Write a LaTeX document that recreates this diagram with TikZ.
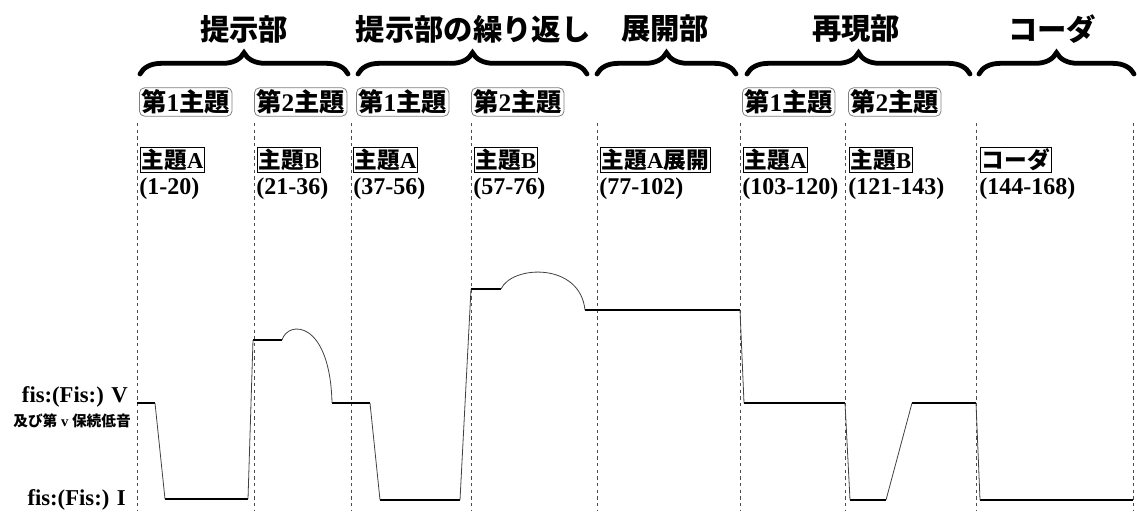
\documentclass[tikz,border=0pt]{standalone}
\usepackage{fontspec}
\setmainfont{Liberation Serif}
\newfontfamily\jp{Noto Sans CJK JP}
\usetikzlibrary{decorations.pathreplacing}
\newcommand\J[1]{{\jp #1}}
\begin{document}
\begin{tikzpicture}[x=0.75pt,y=-0.75pt,
  title/.style={font=\bfseries\jp\fontsize{22}{26}\selectfont, inner sep=0pt},
  bigbrace/.style={decorate, decoration={brace, amplitude=16pt}, line width=3.6pt, line cap=round},
  themebox/.style={draw=gray, rounded corners=4pt, line width=0.6pt, inner sep=1.5pt, anchor=west,
    font=\bfseries\fontsize{19}{21}\selectfont, minimum height=25*0.75pt},
  secbox/.style={draw=black, line width=0.6pt, inner sep=1pt, anchor=west,
    font=\bfseries\fontsize{17}{19}\selectfont},
  bars/.style={anchor=west, inner sep=0pt, font=\bfseries\fontsize{18}{20}\selectfont},
  guide/.style={dashed, dash pattern=on 2.5pt off 2.5pt, line width=0.6pt, gray!60!black},
  lvl/.style={line width=1.9pt, black},
  trans/.style={line width=0.6pt, gray!50!black},
  axlab/.style={anchor=east, inner sep=0pt, font=\bfseries\fontsize{17}{19}\selectfont}
]
\useasboundingbox (0,0) rectangle (1137,511);

% guide lines
\foreach \x in {137,254,351,471,597,740,845,976,1133}
  \draw[guide] (\x,123) -- (\x,511);

% titles
\node[title] (t1) at (244,29) {提示部};
\node[title] (t2) at (473,29) {提示部の繰り返し};
\node[title] (t3) at (665,29) {展開部};
\node[title] (t4) at (856,29) {再現部};
\node[title] (t5) at (1052,29) {コーダ};

% braces
\draw[bigbrace] (140,74) -- (348,74);
\draw[bigbrace] (358,74) -- (587,74);
\draw[bigbrace] (597,74) -- (736,74);
\draw[bigbrace] (747,74) -- (970,74);
\draw[bigbrace] (979,74) -- (1134,74);

% theme boxes
\node[themebox] (th1) at (139,102) {\J{第}1\J{主題}};
\node[themebox] (th2) at (254,102) {\J{第}2\J{主題}};
\node[themebox] (th3) at (356,102) {\J{第}1\J{主題}};
\node[themebox] (th4) at (471,102) {\J{第}2\J{主題}};
\node[themebox] (th5) at (742,102) {\J{第}1\J{主題}};
\node[themebox] (th6) at (848,102) {\J{第}2\J{主題}};

% section boxes
\node[secbox] (s1) at (140,160) {\J{主題}A};
\node[secbox] (s2) at (257,160) {\J{主題}B};
\node[secbox] (s3) at (353,160) {\J{主題}A};
\node[secbox] (s4) at (474,160) {\J{主題}B};
\node[secbox] (s5) at (600,160) {\J{主題}A\J{展開}};
\node[secbox] (s6) at (743,160) {\J{主題}A};
\node[secbox] (s7) at (849,160) {\J{主題}B};
\node[secbox] (s8) at (980,160) {\J{コーダ}};

% bar numbers
\node[bars] (b1) at (139,189) {(1-20)};
\node[bars] (b2) at (256,189) {(21-36)};
\node[bars] (b3) at (353,189) {(37-56)};
\node[bars] (b4) at (473,189) {(57-76)};
\node[bars] (b5) at (599,189) {(77-102)};
\node[bars] (b6) at (742,189) {(103-120)};
\node[bars] (b7) at (848,189) {(121-143)};
\node[bars] (b8) at (979,189) {(144-168)};

% axis labels
\node[axlab] (v) at (128,397) {fis:(Fis:) V};
\node[axlab, font=\bfseries\fontsize{11}{13}\selectfont] (vp) at (131,421) {\J{及び第} v \J{保続低音}};
\node[axlab] (i) at (126,500) {fis:(Fis:) I};

% levels
\draw[lvl] (137,403) -- (155,403);
\draw[lvl] (165,499) -- (248,499);
\draw[lvl] (253,340) -- (282,340);
\draw[lvl] (332,403) -- (370,403);
\draw[lvl] (380,500) -- (460,500);
\draw[lvl] (471,289) -- (501,289);
\draw[lvl] (585,310) -- (740,310);
\draw[lvl] (744,403) -- (845,403);
\draw[lvl] (850,500) -- (886,500);
\draw[lvl] (912,403) -- (976,403);
\draw[lvl] (980,500) -- (1133,500);

% transitions
\draw[trans] (155,403) -- (165,499);
\draw[trans] (248,499) -- (253,340);
\draw[trans] (282,340) .. controls (288,320) and (330,320) .. (332,403);
\draw[trans] (370,403) -- (380,500);
\draw[trans] (460,500) -- (471,289);
\draw[trans] (501,289) .. controls (512,265) and (580,262) .. (585,310);
\draw[trans] (740,310) -- (744,403);
\draw[trans] (845,403) -- (850,500);
\draw[trans] (886,500) -- (912,403);
\draw[trans] (976,403) -- (980,500);
\end{tikzpicture}
\end{document}
